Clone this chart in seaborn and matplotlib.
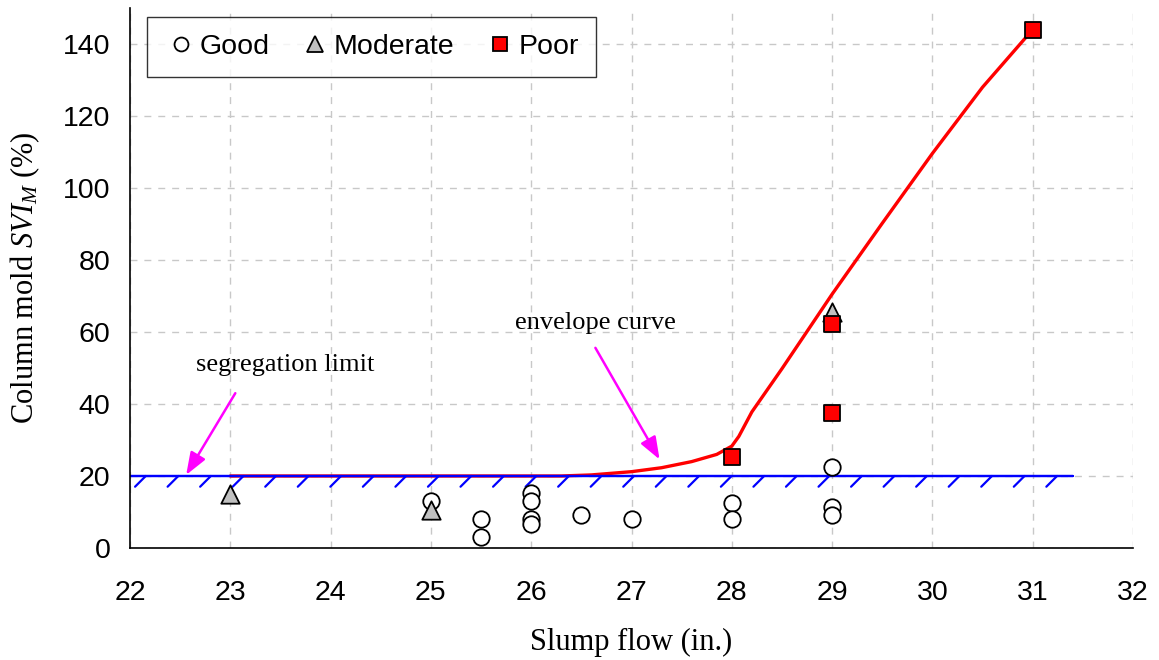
import matplotlib
matplotlib.use("Agg")
import matplotlib.pyplot as plt
import matplotlib.patheffects as pe
from matplotlib.lines import Line2D
import seaborn as sns
import pandas as pd

# slump flow (in.) and column mold SVI_M (%) per stability class
good_x = [25, 25.5, 25.5, 26, 26, 26, 26, 26.5, 27, 28, 28, 29, 29, 29]
good_y = [13.1, 8.0, 3.0, 15.4, 13.0, 8.0, 6.6, 9.2, 8.0, 12.6, 8.0, 22.6, 11.5, 9.2]
moderate_x = [23, 25, 29]
moderate_y = [15.0, 10.5, 65.6]
poor_x = [28, 29, 29, 31]
poor_y = [25.2, 62.2, 37.4, 144.0]

# envelope curve
env_x = [23, 24, 25, 26, 26.3, 26.6, 27.0, 27.3, 27.6, 27.85, 28.0, 28.07, 28.2, 28.5, 29.0, 29.5, 30.0, 30.5, 31.0]
env_y = [20, 20, 20, 20, 20, 20.3, 21.2, 22.3, 24.0, 26.0, 28.3, 31.0, 37.8, 49.8, 70.5, 90.2, 109.6, 128.0, 144.0]

# segregation limit
limit_x = [22, 31.4]
limit_y = [20, 20]

sns.set_style("white")
plt.rcParams["font.family"] = ["Liberation Sans", "DejaVu Sans"]
plt.rcParams["mathtext.fontset"] = "custom"
plt.rcParams["mathtext.rm"] = "Liberation Serif"
plt.rcParams["mathtext.it"] = "Liberation Serif:italic"
plt.rcParams["text.color"] = "black"
plt.rcParams["axes.labelcolor"] = "black"
plt.rcParams["xtick.color"] = "black"
plt.rcParams["ytick.color"] = "black"

fig = plt.figure(figsize=(11.59, 6.6), dpi=100)
ax = fig.add_axes([130 / 1159, 112 / 660, 1003 / 1159, 540 / 660])

env = pd.DataFrame({"x": env_x, "y": env_y})
sns.lineplot(data=env, x="x", y="y", sort=False, color="red", lw=2.4, ax=ax, zorder=2)

lim = pd.DataFrame({"x": limit_x, "y": limit_y})
sns.lineplot(data=lim, x="x", y="y", sort=False, color="blue", lw=1.6, ax=ax, zorder=2.5,
             path_effects=[pe.withTickedStroke(spacing=22.7, angle=-135, length=0.48, linewidth=1.6),
                           pe.Normal()])

mk = dict(edgecolor="black", linewidth=1.3, zorder=3, ax=ax, legend=False)
sns.scatterplot(x=good_x, y=good_y, marker="o", color="white", s=140, **mk)
sns.scatterplot(x=moderate_x, y=moderate_y, marker="^", color="#c0c0c0", s=175, **mk)
sns.scatterplot(x=poor_x, y=poor_y, marker="s", color="red", s=130, **mk)

ax.set_xlim(22, 32)
ax.set_ylim(0, 150)
ax.set_xticks(range(22, 33))
ax.set_yticks(range(0, 141, 20))
ax.grid(True, color="#c8c8c8", linestyle=(0, (5, 5)), lw=1)
ax.set_axisbelow(True)
for s in ["top", "right"]:
    ax.spines[s].set_visible(False)
for s in ["left", "bottom"]:
    ax.spines[s].set_color("black")
    ax.spines[s].set_linewidth(1.2)
ax.tick_params(axis="x", direction="inout", length=14, width=1, labelsize=20.5, pad=16, color="#333333")
ax.tick_params(axis="y", direction="out", length=8, width=1, labelsize=20.5, pad=6, color="#333333")

ax.set_xlabel("Slump flow (in.)", family="Liberation Serif", fontsize=22, labelpad=16)
ax.set_ylabel("Column mold $SVI_M$ (%)", family="Liberation Serif", fontsize=22, labelpad=15)

arrow = dict(arrowstyle="-|>,head_length=0.8,head_width=0.3", color="magenta", lw=1.8,
             mutation_scale=17, shrinkA=0, shrinkB=0)
ax.text(26.64, 62.5, "envelope curve", family="Liberation Serif", fontsize=19, ha="center", va="center")
ax.annotate("", xy=(27.28, 24.6), xytext=(26.64, 55.6), arrowprops=arrow)
ax.text(23.55, 50.8, "segregation limit", family="Liberation Serif", fontsize=19, ha="center", va="center")
ax.annotate("", xy=(22.56, 20.3), xytext=(23.05, 43), arrowprops=arrow)

handles = [
    Line2D([], [], ls="", marker="o", ms=10, mfc="white", mec="black", mew=1.3),
    Line2D([], [], ls="", marker="^", ms=11, mfc="#c0c0c0", mec="black", mew=1.3),
    Line2D([], [], ls="", marker="s", ms=10, mfc="red", mec="black", mew=1.3),
]
leg = ax.legend(handles, ["Good", "Moderate", "Poor"], ncol=3, loc="upper left",
                bbox_to_anchor=(0.017, 0.983), borderaxespad=0, fontsize=20.5, frameon=True,
                fancybox=False, handletextpad=0.05, columnspacing=1.0, borderpad=0.6, handlelength=1.2)
leg.get_frame().set_edgecolor("black")
leg.get_frame().set_linewidth(1)

fig.savefig("out.png", dpi=100)
